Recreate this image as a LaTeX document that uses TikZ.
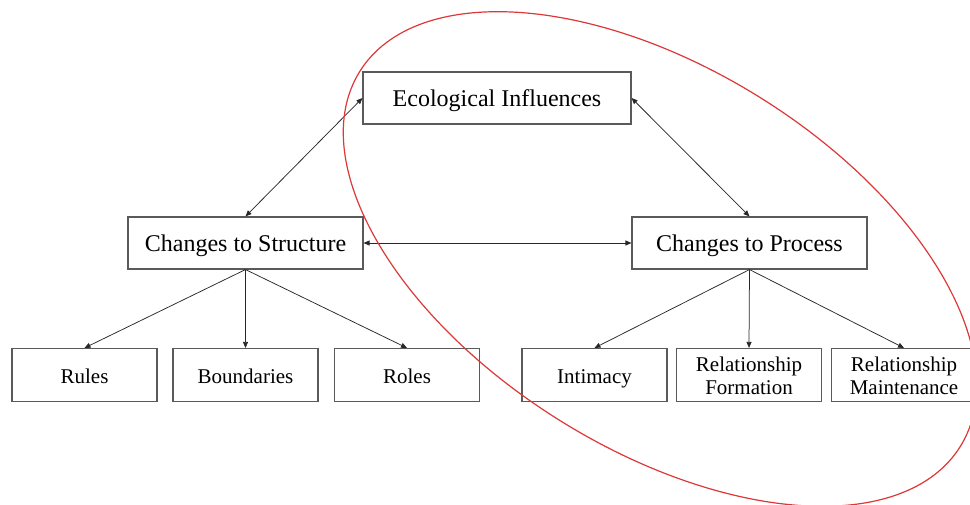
\documentclass[tikz,border=0pt]{standalone}
\usepackage{fontspec}
\setmainfont{Liberation Serif}
\usetikzlibrary{arrows.meta}
\definecolor{boxgray}{RGB}{90,90,90}
\definecolor{linegray}{RGB}{40,40,40}
\definecolor{ovalred}{RGB}{222,55,55}
\tikzset{
  bigbox/.style={draw=boxgray, line width=1.1pt, fill=white, minimum height=52pt, inner sep=0pt, text height=22pt, text depth=4.6pt, font=\fontsize{24}{28}\selectfont},
  smallbox/.style={draw=boxgray, line width=1.1pt, fill=white, minimum width=145pt, minimum height=53pt, inner sep=0pt, align=center, font=\fontsize{21}{23}\selectfont},
  oneline/.style={text height=20pt, text depth=4pt},
  conn/.style={draw=linegray, line width=0.75pt, -{Triangle[length=6pt,width=5pt]}},
  biconn/.style={draw=linegray, line width=0.75pt, {Triangle[length=6pt,width=5pt]}-{Triangle[length=6pt,width=5pt]}},
}
\begin{document}
\begin{tikzpicture}[x=1pt,y=-1pt]
\useasboundingbox (0,0) rectangle (970,504);
\clip (0,0) rectangle (970,504);
\node[bigbox, minimum width=268pt] (eco) at (497,98) {Ecological Influences};
\node[bigbox, minimum width=235pt] (str) at (245.5,243) {Changes to Structure};
\node[bigbox, minimum width=235pt] (pro) at (749.5,243) {Changes to Process};
\node[smallbox, oneline] (rules) at (84.5,375) {Rules};
\node[smallbox, oneline] (bound) at (245.5,375) {Boundaries};
\node[smallbox, oneline] (roles) at (407,375) {Roles};
\node[smallbox, oneline] (intim) at (594.5,375) {Intimacy};
\node[smallbox] (form) at (749,375) {\rule{0pt}{17pt}Relationship\\Formation};
\node[smallbox] (maint) at (904,375) {\rule{0pt}{17pt}Relationship\\Maintenance};
\draw[biconn] (str.north) -- (eco.west);
\draw[biconn] (eco.east) -- (pro.north);
\draw[biconn] (str.east) -- (pro.west);
\draw[conn] (str.south) -- (rules.north);
\draw[conn] (str.south) -- (bound.north);
\draw[conn] (str.south) -- (roles.north);
\draw[conn] (pro.south) -- (intim.north);
\draw[conn] (pro.south) -- (form.north);
\draw[conn] (pro.south) -- (maint.north);
\begin{scope}[shift={(660,259)}, rotate=-32]
\draw[ovalred, line width=1.2pt] (0,0) ellipse [x radius=354pt, y radius=190pt];
\end{scope}
\end{tikzpicture}
\end{document}
